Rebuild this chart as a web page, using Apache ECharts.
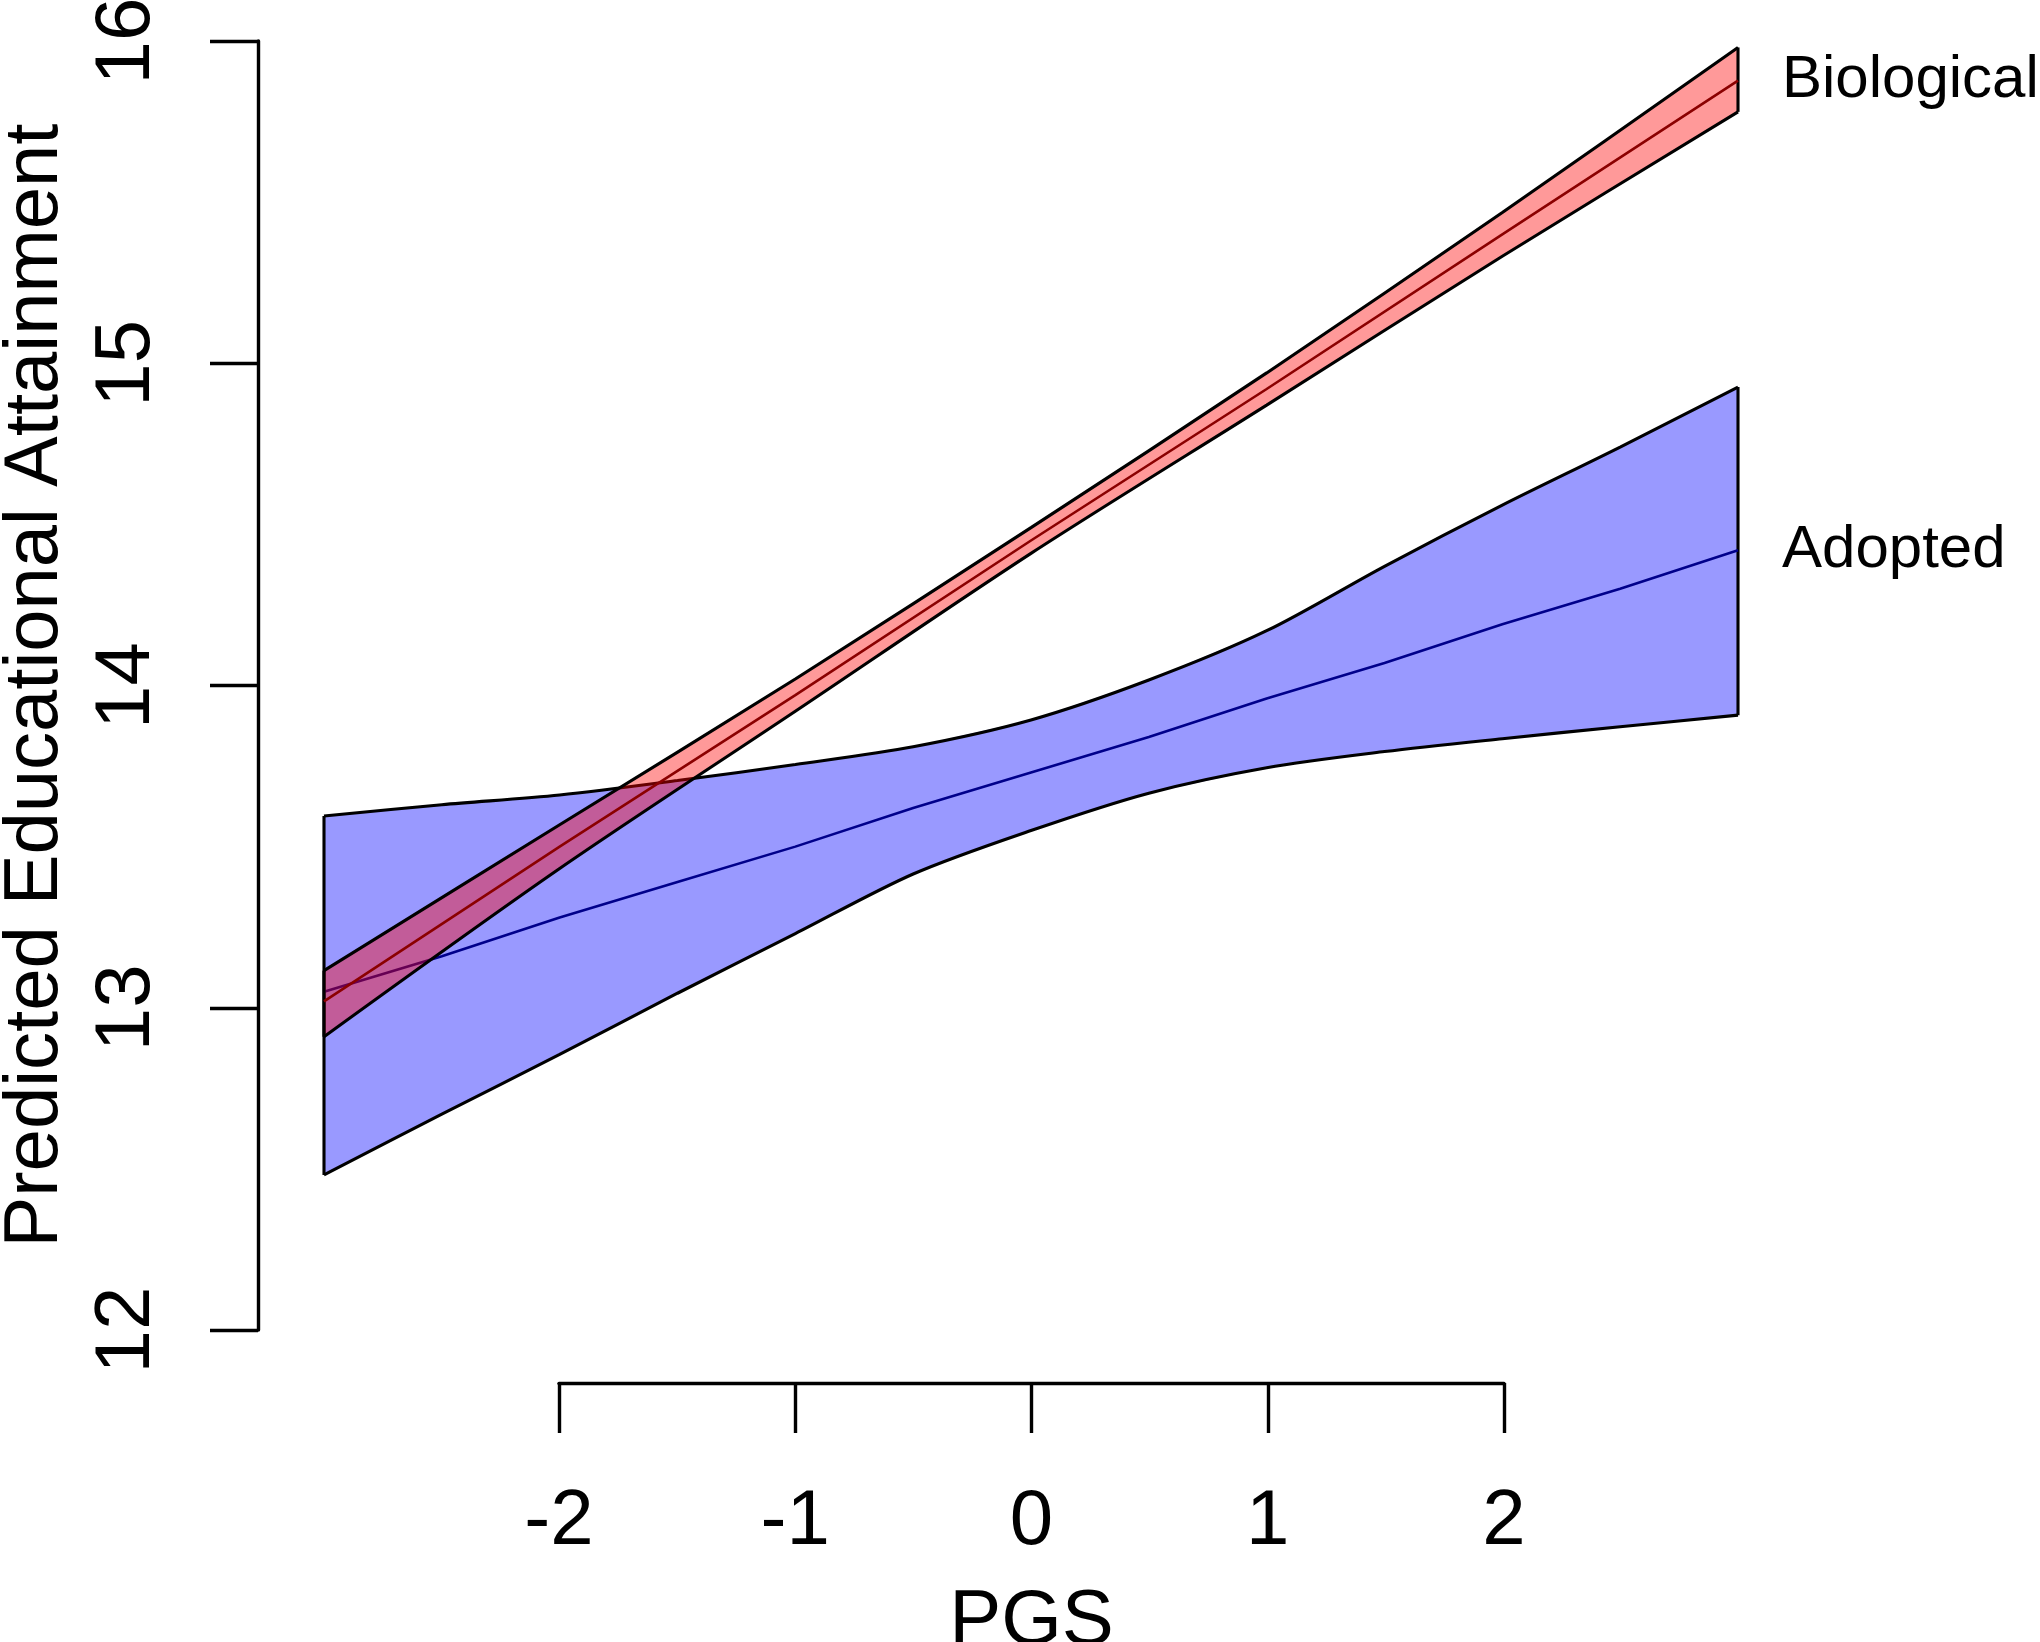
<!DOCTYPE html>
<html>
<head>
<meta charset="utf-8">
<script src="https://cdn.jsdelivr.net/npm/echarts@6/dist/echarts.min.js"></script>
<style>
  html, body { margin: 0; padding: 0; background: #ffffff; }
  #chart { width: 2040px; height: 1642px; }
</style>
</head>
<body>
<div id="chart"></div>
<script>
// ---- Data ----
// Adopted (blue band)
const adoptedX     = [-3, -2.5, -2, -1.5, -1, -0.5, 0, 0.5, 1, 1.5, 2, 2.5, 3];
const adoptedFit   = [13.05, 13.16, 13.28, 13.39, 13.50, 13.62, 13.73, 13.84, 13.96, 14.07, 14.19, 14.30, 14.42];
const adoptedUpper = [13.595, 13.63, 13.66, 13.705, 13.755, 13.81, 13.893, 14.017, 14.17, 14.37, 14.56, 14.74, 14.926];
const adoptedLower = [12.481, 12.67, 12.855, 13.045, 13.23, 13.415, 13.55, 13.666, 13.745, 13.795, 13.835, 13.872, 13.908];

// Biological (red band)
const bioX     = [-3, -2, -1, 0, 1, 2, 3];
const bioFit   = [13.02, 13.50, 13.97, 14.45, 14.92, 15.40, 15.877];
const bioUpper = [13.115, 13.568, 14.02, 14.49, 14.97, 15.468, 15.98];
const bioLower = [12.91, 13.432, 13.92, 14.41, 14.87, 15.332, 15.78];

// Axis ticks / labels
const xTicks = [-2, -1, 0, 1, 2];
const yTicks = [12, 13, 14, 15, 16];
const xTitle = 'PGS';
const yTitle = 'Predicted Educational Attainment';
const seriesNames = ['Adopted', 'Biological'];

// ---- Build options ----
const FONT = '"Liberation Sans", Arial, Helvetica, sans-serif';
const zip = (xs, ys) => xs.map((x, i) => [x, ys[i]]);
const lastIdx = a => a.length - 1;
const EDGE = { color: '#000', width: 3.1 };

function bandSeries(xs, lower, upper, fit, fill, fitColor, zBase, name, smooth) {
  const fillSeries = {
    type: 'custom', name: name + ' band', coordinateSystem: 'cartesian2d',
    xAxisIndex: 0, yAxisIndex: 0, clip: false, silent: true, z: zBase,
    data: [[xs[0], lower[0]]],
    renderItem: function (params, api) {
      const pts = [];
      for (let i = 0; i < xs.length; i++) pts.push(api.coord([xs[i], upper[i]]));
      for (let i = xs.length - 1; i >= 0; i--) pts.push(api.coord([xs[i], lower[i]]));
      return { type: 'polygon', shape: { points: pts }, style: { fill: fill, stroke: null } };
    }
  };
  const lineBase = { type: 'line', showSymbol: false, symbol: 'none', clip: false, silent: true };
  return [
    fillSeries,
    Object.assign({}, lineBase, { data: zip(xs, upper), smooth: smooth, lineStyle: EDGE, z: zBase + 1 }),
    Object.assign({}, lineBase, { data: zip(xs, lower), smooth: smooth, lineStyle: EDGE, z: zBase + 1 }),
    Object.assign({}, lineBase, { data: [[xs[0], lower[0]], [xs[0], upper[0]]], lineStyle: EDGE, z: zBase + 1 }),
    Object.assign({}, lineBase, {
      data: [[xs[lastIdx(xs)], lower[lastIdx(lower)]], [xs[lastIdx(xs)], upper[lastIdx(upper)]]],
      lineStyle: EDGE, z: zBase + 1
    }),
    Object.assign({}, lineBase, {
      name: name, data: zip(xs, fit), lineStyle: { color: fitColor, width: 2.6 }, z: zBase + 1,
      endLabel: { show: true, formatter: name, color: '#000', fontFamily: FONT, fontSize: 60, distance: 44 }
    })
  ];
}

const series = [
  ...bandSeries(adoptedX, adoptedLower, adoptedUpper, adoptedFit,
                'rgba(0,0,255,0.4)', '#00008B', 2, seriesNames[0], 0.3),
  ...bandSeries(bioX, bioLower, bioUpper, bioFit,
                'rgba(255,0,0,0.4)', '#8B0000', 5, seriesNames[1], 0.3)
];

const option = {
  animation: false,
  backgroundColor: '#ffffff',
  textStyle: { fontFamily: FONT, color: '#000' },
  grid: [
    { left: 324, right: 302, top: 41, bottom: 312, containLabel: false, outerBoundsMode: 'none' },
    { left: 559, right: 536, top: 1283, height: 100, containLabel: false, outerBoundsMode: 'none' }
  ],
  xAxis: [
    { gridIndex: 0, type: 'value', min: -3, max: 3, show: false },
    {
      gridIndex: 1, type: 'value', min: xTicks[0], max: xTicks[xTicks.length - 1], interval: 1,
      position: 'bottom',
      axisLine: { show: true, onZero: false, lineStyle: { color: '#000', width: 3.4 } },
      axisTick: { show: true, length: 50, lineStyle: { color: '#000', width: 3.4 } },
      axisLabel: { show: true, fontSize: 78, color: '#000', fontFamily: FONT, margin: 100 },
      splitLine: { show: false },
      name: xTitle, nameLocation: 'middle', nameGap: 200,
      nameTextStyle: { fontSize: 78, color: '#000', fontFamily: FONT }
    }
  ],
  yAxis: [
    {
      gridIndex: 0, type: 'value', min: yTicks[0], max: yTicks[yTicks.length - 1], interval: 1,
      position: 'left', offset: 66,
      axisLine: { show: true, onZero: false, lineStyle: { color: '#000', width: 3.4 } },
      axisTick: { show: true, length: 48, lineStyle: { color: '#000', width: 3.4 } },
      axisLabel: { show: true, rotate: 90, fontSize: 78, color: '#000', fontFamily: FONT, margin: 92 },
      splitLine: { show: false },
      name: yTitle, nameLocation: 'middle', nameGap: 184, nameRotate: 90,
      nameTextStyle: { fontSize: 76, color: '#000', fontFamily: FONT }
    },
    { gridIndex: 1, type: 'value', min: 0, max: 1, show: false }
  ],
  series: series
};

const chart = echarts.init(document.getElementById('chart'), null, { renderer: 'canvas' });
chart.setOption(option);
</script>
</body>
</html>
